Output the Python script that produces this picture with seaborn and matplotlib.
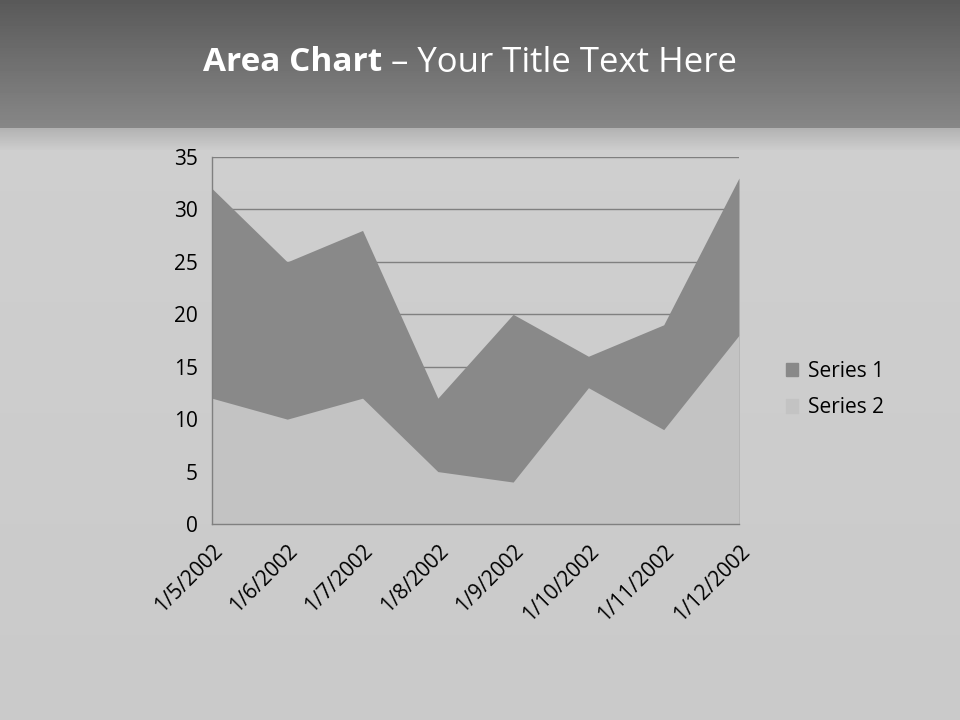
import numpy as np
import pandas as pd
import matplotlib.pyplot as plt
import seaborn as sns
from matplotlib.patches import Patch

dates = ['1/5/2002', '1/6/2002', '1/7/2002', '1/8/2002',
         '1/9/2002', '1/10/2002', '1/11/2002', '1/12/2002']
series_1 = [32, 25, 28, 12, 20, 16, 19, 33]
series_2 = [12, 10, 12, 5, 4, 13, 9, 18]
y_ticks = [0, 5, 10, 15, 20, 25, 30, 35]

df = pd.DataFrame({'date': dates, 'Series 1': series_1, 'Series 2': series_2})
df['pos'] = range(len(df))

sns.set_style('white')
plt.rcParams['font.family'] = ['Open Sans', 'DejaVu Sans']
plt.rcParams['text.color'] = 'black'

fig = plt.figure(figsize=(9.6, 7.2), dpi=100)

# slide background: dark band on top, light grey below
bg = fig.add_axes([0, 0, 1, 1], zorder=-10)
grad = np.zeros((720, 1))
grad[:128, 0] = np.linspace(0.35, 0.53, 128)
grad[128:150, 0] = np.linspace(0.70, 0.80, 22)
grad[150:, 0] = np.linspace(0.81, 0.79, 720 - 150)
bg.imshow(grad, aspect='auto', cmap='gray', vmin=0, vmax=1, extent=[0, 1, 0, 1])
bg.axis('off')

ax = fig.add_axes([0.2208, 0.2722, 0.5490, 0.5097])
ax.patch.set_alpha(0)

c1 = '#898989'
c2 = '#c3c3c3'
sns.lineplot(data=df, x='pos', y='Series 1', ax=ax, color=c1, linewidth=0)
sns.lineplot(data=df, x='pos', y='Series 2', ax=ax, color=c2, linewidth=0)
ax.fill_between(df['pos'], df['Series 1'], color=c1, linewidth=0, zorder=2)
ax.fill_between(df['pos'], df['Series 2'], color=c2, linewidth=0, zorder=3)

ax.set_xlim(0, len(df) - 1)
ax.set_ylim(0, 35)
ax.set_yticks(y_ticks)
ax.set_xticks(df['pos'])
ax.set_xticklabels(df['date'], rotation=45, ha='right', rotation_mode='anchor')
ax.tick_params(axis='both', labelsize=15, colors='#000000', length=6, width=1,
               direction='out', pad=4)
ax.tick_params(axis='both', color='#808080')
ax.tick_params(axis='x', pad=6)
ax.yaxis.grid(True, color='#808080', linewidth=1, zorder=1)
ax.set_axisbelow(True)
for s in ['top', 'right']:
    ax.spines[s].set_visible(False)
for s in ['left', 'bottom']:
    ax.spines[s].set_color('#808080')
    ax.spines[s].set_linewidth(1)
    ax.spines[s].set_zorder(5)
ax.set_xlabel('')
ax.set_ylabel('')

handles = [Patch(color=c1, label='Series 1'), Patch(color=c2, label='Series 2')]
fig.legend(handles=handles, loc='center left', bbox_to_anchor=(0.799, 0.459),
           frameon=False, fontsize=15, handlelength=0.6, handleheight=0.6,
           handletextpad=0.45, labelspacing=0.75, labelcolor='black')

fig.text(0.398, 0.913, 'Area Chart', ha='right', va='center',
         fontsize=24, fontweight='bold', color='white')
fig.text(0.398, 0.913, ' – Your Title Text Here', ha='left', va='center',
         fontsize=25, color='white')

fig.savefig('out.png', dpi=100)
